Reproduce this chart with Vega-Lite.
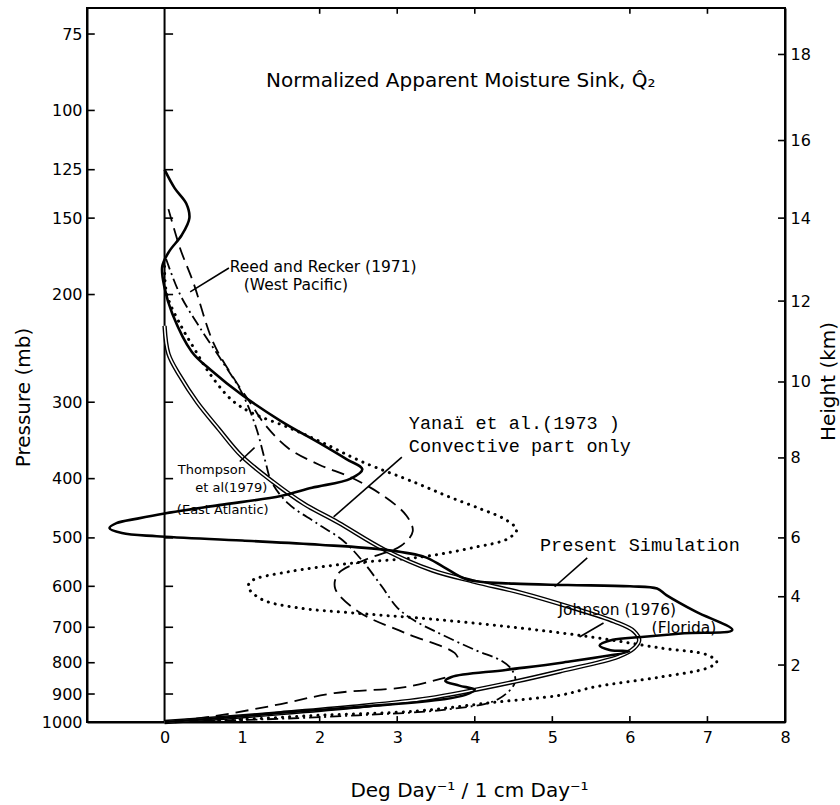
{
  "$schema": "https://vega.github.io/schema/vega-lite/v6.json",
  "width": 698,
  "height": 714,
  "autosize": {"type": "none"},
  "padding": {"left": 87, "top": 8, "right": 55, "bottom": 83},
  "background": "white",
  "config": {
    "view": {"stroke": "black", "strokeWidth": 2},
    "axis": {
      "grid": false,
      "labelFont": "DejaVu Sans",
      "titleFont": "DejaVu Sans",
      "labelColor": "black",
      "titleColor": "black",
      "domainColor": "black",
      "tickColor": "black",
      "titleFontWeight": "normal"
    }
  },
  "datasets": {
    "curves": [
      {"s": "sim", "i": 0, "x": 0, "p": 125},
      {"s": "sim", "i": 1, "x": 0.13, "p": 134},
      {"s": "sim", "i": 2, "x": 0.28, "p": 142},
      {"s": "sim", "i": 3, "x": 0.32, "p": 150},
      {"s": "sim", "i": 4, "x": 0.22, "p": 160},
      {"s": "sim", "i": 5, "x": 0.06, "p": 170},
      {"s": "sim", "i": 6, "x": -0.03, "p": 180},
      {"s": "sim", "i": 7, "x": 0.0, "p": 195},
      {"s": "sim", "i": 8, "x": 0.1, "p": 215},
      {"s": "sim", "i": 9, "x": 0.35, "p": 248},
      {"s": "sim", "i": 10, "x": 0.6, "p": 266},
      {"s": "sim", "i": 11, "x": 1.0, "p": 292},
      {"s": "sim", "i": 12, "x": 1.5, "p": 322},
      {"s": "sim", "i": 13, "x": 2.0, "p": 350},
      {"s": "sim", "i": 14, "x": 2.35, "p": 372},
      {"s": "sim", "i": 15, "x": 2.55, "p": 386},
      {"s": "sim", "i": 16, "x": 2.4, "p": 400},
      {"s": "sim", "i": 17, "x": 1.9, "p": 414},
      {"s": "sim", "i": 18, "x": 1.5, "p": 427},
      {"s": "sim", "i": 19, "x": 0.7, "p": 442},
      {"s": "sim", "i": 20, "x": 0.0, "p": 456},
      {"s": "sim", "i": 21, "x": -0.35, "p": 465},
      {"s": "sim", "i": 22, "x": -0.62, "p": 473},
      {"s": "sim", "i": 23, "x": -0.71, "p": 482},
      {"s": "sim", "i": 24, "x": -0.55, "p": 491},
      {"s": "sim", "i": 25, "x": -0.1, "p": 497},
      {"s": "sim", "i": 26, "x": 1.0, "p": 505},
      {"s": "sim", "i": 27, "x": 2.0, "p": 513},
      {"s": "sim", "i": 28, "x": 2.85, "p": 523},
      {"s": "sim", "i": 29, "x": 3.35, "p": 537},
      {"s": "sim", "i": 30, "x": 3.6, "p": 558},
      {"s": "sim", "i": 31, "x": 3.9, "p": 585},
      {"s": "sim", "i": 32, "x": 4.5, "p": 594},
      {"s": "sim", "i": 33, "x": 5.2, "p": 597},
      {"s": "sim", "i": 34, "x": 6.0, "p": 600},
      {"s": "sim", "i": 35, "x": 6.35, "p": 605},
      {"s": "sim", "i": 36, "x": 6.47, "p": 620},
      {"s": "sim", "i": 37, "x": 6.85, "p": 660},
      {"s": "sim", "i": 38, "x": 7.32, "p": 707},
      {"s": "sim", "i": 39, "x": 6.7, "p": 716},
      {"s": "sim", "i": 40, "x": 6.15, "p": 726},
      {"s": "sim", "i": 41, "x": 5.78, "p": 734},
      {"s": "sim", "i": 42, "x": 5.61, "p": 750},
      {"s": "sim", "i": 43, "x": 5.75, "p": 763},
      {"s": "sim", "i": 44, "x": 5.99, "p": 766},
      {"s": "sim", "i": 45, "x": 5.12, "p": 800},
      {"s": "sim", "i": 46, "x": 4.4, "p": 822},
      {"s": "sim", "i": 47, "x": 3.7, "p": 844},
      {"s": "sim", "i": 48, "x": 3.62, "p": 857},
      {"s": "sim", "i": 49, "x": 3.8, "p": 872},
      {"s": "sim", "i": 50, "x": 4.0, "p": 886},
      {"s": "sim", "i": 51, "x": 3.88, "p": 903},
      {"s": "sim", "i": 52, "x": 3.6, "p": 918},
      {"s": "sim", "i": 53, "x": 2.6, "p": 943},
      {"s": "sim", "i": 54, "x": 1.5, "p": 966},
      {"s": "sim", "i": 55, "x": 0.6, "p": 988},
      {"s": "sim", "i": 56, "x": 0, "p": 1000},

      {"s": "dbl", "i": 0, "x": 0.0, "p": 225},
      {"s": "dbl", "i": 1, "x": 0.05, "p": 250},
      {"s": "dbl", "i": 2, "x": 0.2, "p": 272},
      {"s": "dbl", "i": 3, "x": 0.42, "p": 300},
      {"s": "dbl", "i": 4, "x": 0.7, "p": 332},
      {"s": "dbl", "i": 5, "x": 0.99, "p": 367},
      {"s": "dbl", "i": 6, "x": 1.4, "p": 405},
      {"s": "dbl", "i": 7, "x": 1.8, "p": 440},
      {"s": "dbl", "i": 8, "x": 2.24, "p": 472},
      {"s": "dbl", "i": 9, "x": 2.84, "p": 523},
      {"s": "dbl", "i": 10, "x": 3.45, "p": 565},
      {"s": "dbl", "i": 11, "x": 4.0, "p": 590},
      {"s": "dbl", "i": 12, "x": 4.6, "p": 615},
      {"s": "dbl", "i": 13, "x": 5.25, "p": 650},
      {"s": "dbl", "i": 14, "x": 5.8, "p": 685},
      {"s": "dbl", "i": 15, "x": 6.05, "p": 710},
      {"s": "dbl", "i": 16, "x": 6.12, "p": 735},
      {"s": "dbl", "i": 17, "x": 6.05, "p": 758},
      {"s": "dbl", "i": 18, "x": 5.85, "p": 782},
      {"s": "dbl", "i": 19, "x": 5.12, "p": 825},
      {"s": "dbl", "i": 20, "x": 4.5, "p": 860},
      {"s": "dbl", "i": 21, "x": 3.4, "p": 915},
      {"s": "dbl", "i": 22, "x": 2.4, "p": 945},
      {"s": "dbl", "i": 23, "x": 1.5, "p": 967},
      {"s": "dbl", "i": 24, "x": 0.6, "p": 988},
      {"s": "dbl", "i": 25, "x": 0, "p": 1000},

      {"s": "dot", "i": 0, "x": 0.0, "p": 180},
      {"s": "dot", "i": 1, "x": 0.03, "p": 200},
      {"s": "dot", "i": 2, "x": 0.22, "p": 226},
      {"s": "dot", "i": 3, "x": 0.39, "p": 246},
      {"s": "dot", "i": 4, "x": 0.57, "p": 268},
      {"s": "dot", "i": 5, "x": 0.86, "p": 297},
      {"s": "dot", "i": 6, "x": 1.12, "p": 312},
      {"s": "dot", "i": 7, "x": 1.6, "p": 330},
      {"s": "dot", "i": 8, "x": 2.03, "p": 349},
      {"s": "dot", "i": 9, "x": 2.54, "p": 375},
      {"s": "dot", "i": 10, "x": 3.23, "p": 406},
      {"s": "dot", "i": 11, "x": 3.66, "p": 428},
      {"s": "dot", "i": 12, "x": 4.09, "p": 449},
      {"s": "dot", "i": 13, "x": 4.4, "p": 467},
      {"s": "dot", "i": 14, "x": 4.54, "p": 485},
      {"s": "dot", "i": 15, "x": 4.42, "p": 502},
      {"s": "dot", "i": 16, "x": 4.0, "p": 518},
      {"s": "dot", "i": 17, "x": 3.32, "p": 537},
      {"s": "dot", "i": 18, "x": 2.41, "p": 550},
      {"s": "dot", "i": 19, "x": 1.6, "p": 568},
      {"s": "dot", "i": 20, "x": 1.12, "p": 588},
      {"s": "dot", "i": 21, "x": 1.08, "p": 602},
      {"s": "dot", "i": 22, "x": 1.25, "p": 630},
      {"s": "dot", "i": 23, "x": 1.7, "p": 650},
      {"s": "dot", "i": 24, "x": 2.41, "p": 663},
      {"s": "dot", "i": 25, "x": 3.4, "p": 678},
      {"s": "dot", "i": 26, "x": 4.5, "p": 700},
      {"s": "dot", "i": 27, "x": 5.5, "p": 726},
      {"s": "dot", "i": 28, "x": 6.4, "p": 757},
      {"s": "dot", "i": 29, "x": 7.0, "p": 777},
      {"s": "dot", "i": 30, "x": 7.12, "p": 798},
      {"s": "dot", "i": 31, "x": 7.0, "p": 816},
      {"s": "dot", "i": 32, "x": 6.4, "p": 844},
      {"s": "dot", "i": 33, "x": 5.55, "p": 876},
      {"s": "dot", "i": 34, "x": 5.12, "p": 903},
      {"s": "dot", "i": 35, "x": 4.2, "p": 930},
      {"s": "dot", "i": 36, "x": 3.23, "p": 960},
      {"s": "dot", "i": 37, "x": 2.0, "p": 975},
      {"s": "dot", "i": 38, "x": 1.0, "p": 990},
      {"s": "dot", "i": 39, "x": 0, "p": 1000},

      {"s": "dashdot", "i": 0, "x": 0.02, "p": 175},
      {"s": "dashdot", "i": 1, "x": 0.2, "p": 200},
      {"s": "dashdot", "i": 2, "x": 0.45, "p": 226},
      {"s": "dashdot", "i": 3, "x": 0.75, "p": 258},
      {"s": "dashdot", "i": 4, "x": 1.0, "p": 290},
      {"s": "dashdot", "i": 5, "x": 1.18, "p": 330},
      {"s": "dashdot", "i": 6, "x": 1.3, "p": 375},
      {"s": "dashdot", "i": 7, "x": 1.38, "p": 405},
      {"s": "dashdot", "i": 8, "x": 1.6, "p": 440},
      {"s": "dashdot", "i": 9, "x": 1.95, "p": 472},
      {"s": "dashdot", "i": 10, "x": 2.3, "p": 505},
      {"s": "dashdot", "i": 11, "x": 2.55, "p": 545},
      {"s": "dashdot", "i": 12, "x": 2.8, "p": 600},
      {"s": "dashdot", "i": 13, "x": 3.0, "p": 650},
      {"s": "dashdot", "i": 14, "x": 3.2, "p": 680},
      {"s": "dashdot", "i": 15, "x": 3.5, "p": 712},
      {"s": "dashdot", "i": 16, "x": 4.0, "p": 762},
      {"s": "dashdot", "i": 17, "x": 4.35, "p": 795},
      {"s": "dashdot", "i": 18, "x": 4.48, "p": 822},
      {"s": "dashdot", "i": 19, "x": 4.52, "p": 860},
      {"s": "dashdot", "i": 20, "x": 4.3, "p": 918},
      {"s": "dashdot", "i": 21, "x": 3.6, "p": 955},
      {"s": "dashdot", "i": 22, "x": 2.5, "p": 975},
      {"s": "dashdot", "i": 23, "x": 1.3, "p": 990},
      {"s": "dashdot", "i": 24, "x": 0, "p": 1000},

      {"s": "dash", "part": "a", "i": 0, "x": 0.05, "p": 145},
      {"s": "dash", "part": "a", "i": 1, "x": 0.2, "p": 168},
      {"s": "dash", "part": "a", "i": 2, "x": 0.37, "p": 191},
      {"s": "dash", "part": "a", "i": 3, "x": 0.63, "p": 240},
      {"s": "dash", "part": "a", "i": 4, "x": 0.9, "p": 275},
      {"s": "dash", "part": "a", "i": 5, "x": 1.1, "p": 300},
      {"s": "dash", "part": "a", "i": 6, "x": 1.3, "p": 327},
      {"s": "dash", "part": "a", "i": 7, "x": 1.6, "p": 357},
      {"s": "dash", "part": "a", "i": 8, "x": 2.0, "p": 380},
      {"s": "dash", "part": "a", "i": 9, "x": 2.4, "p": 398},
      {"s": "dash", "part": "a", "i": 10, "x": 2.8, "p": 425},
      {"s": "dash", "part": "a", "i": 11, "x": 3.12, "p": 460},
      {"s": "dash", "part": "a", "i": 12, "x": 3.2, "p": 488},
      {"s": "dash", "part": "a", "i": 13, "x": 3.05, "p": 515},
      {"s": "dash", "part": "a", "i": 14, "x": 2.6, "p": 542},
      {"s": "dash", "part": "a", "i": 15, "x": 2.24, "p": 572},
      {"s": "dash", "part": "a", "i": 16, "x": 2.2, "p": 605},
      {"s": "dash", "part": "a", "i": 17, "x": 2.5, "p": 660},
      {"s": "dash", "part": "a", "i": 18, "x": 3.1, "p": 715},
      {"s": "dash", "part": "a", "i": 19, "x": 3.74, "p": 771},
      {"s": "dash", "part": "a", "i": 20, "x": 3.8, "p": 795},
      {"s": "dash", "part": "b", "i": 21, "x": 3.62, "p": 846},
      {"s": "dash", "part": "b", "i": 22, "x": 3.1, "p": 877},
      {"s": "dash", "part": "b", "i": 23, "x": 2.19, "p": 897},
      {"s": "dash", "part": "b", "i": 24, "x": 1.4, "p": 940},
      {"s": "dash", "part": "b", "i": 25, "x": 0.6, "p": 980},
      {"s": "dash", "part": "b", "i": 26, "x": 0, "p": 1000}
    ],
    "labels": [
      {"g": "title", "x": 3.82, "p": 89.6, "t": "Normalized Apparent Moisture Sink, Q\u0302\u2082"},
      {"g": "sans", "x": 0.84, "p": 180, "t": "Reed and Recker (1971)"},
      {"g": "sans", "x": 1.02, "p": 193, "t": "(West Pacific)"},
      {"g": "sans", "x": 5.08, "p": 655, "t": "Johnson (1976)"},
      {"g": "sans", "x": 6.28, "p": 702, "t": "(Florida)"},
      {"g": "small", "x": 0.61, "p": 387, "t": "Thompson"},
      {"g": "small", "x": 0.86, "p": 414, "t": "et al(1979)"},
      {"g": "small", "x": 0.75, "p": 450, "t": "(East Atlantic)"},
      {"g": "mono", "x": 3.15, "p": 325, "t": "Yana\u00ef  et al.(1973 )"},
      {"g": "mono", "x": 3.15, "p": 354, "t": "Convective part only"},
      {"g": "mono", "x": 4.84, "p": 513, "t": "Present Simulation"}
    ],
    "pointers": [
      {"x": 0.33, "p": 198, "x2": 0.83, "p2": 181},
      {"x": 3.06, "p": 369, "x2": 2.18, "p2": 462},
      {"x": 5.45, "p": 539, "x2": 5.03, "p2": 601},
      {"x": 0.97, "p": 375, "x2": 1.16, "p2": 356},
      {"x": 5.66, "p": 689, "x2": 5.35, "p2": 726}
    ],
    "frameTicks": [
      {"x": -1, "x2": -0.9, "p": 75, "p2": 75},
      {"x": -1, "x2": -0.9, "p": 100, "p2": 100},
      {"x": -1, "x2": -0.9, "p": 125, "p2": 125},
      {"x": -1, "x2": -0.9, "p": 150, "p2": 150},
      {"x": -1, "x2": -0.9, "p": 200, "p2": 200},
      {"x": -1, "x2": -0.9, "p": 300, "p2": 300},
      {"x": -1, "x2": -0.9, "p": 400, "p2": 400},
      {"x": -1, "x2": -0.9, "p": 500, "p2": 500},
      {"x": -1, "x2": -0.9, "p": 600, "p2": 600},
      {"x": -1, "x2": -0.9, "p": 700, "p2": 700},
      {"x": -1, "x2": -0.9, "p": 800, "p2": 800},
      {"x": -1, "x2": -0.9, "p": 900, "p2": 900},
      {"x": 0, "x2": 0.11, "p": 75, "p2": 75},
      {"x": 0, "x2": 0.11, "p": 100, "p2": 100},
      {"x": 0, "x2": 0.11, "p": 125, "p2": 125},
      {"x": 0, "x2": 0.11, "p": 150, "p2": 150},
      {"x": 0, "x2": 0.11, "p": 200, "p2": 200},
      {"x": 0, "x2": 0.11, "p": 300, "p2": 300},
      {"x": 0, "x2": 0.11, "p": 400, "p2": 400},
      {"x": 0, "x2": 0.11, "p": 500, "p2": 500},
      {"x": 0, "x2": 0.11, "p": 600, "p2": 600},
      {"x": 0, "x2": 0.11, "p": 700, "p2": 700},
      {"x": 0, "x2": 0.11, "p": 800, "p2": 800},
      {"x": 0, "x2": 0.11, "p": 900, "p2": 900},
      {"x": 7.91, "x2": 8, "p": 81, "p2": 81},
      {"x": 7.91, "x2": 8, "p": 112, "p2": 112},
      {"x": 7.91, "x2": 8, "p": 150, "p2": 150},
      {"x": 7.91, "x2": 8, "p": 205, "p2": 205},
      {"x": 7.91, "x2": 8, "p": 278, "p2": 278},
      {"x": 7.91, "x2": 8, "p": 370, "p2": 370},
      {"x": 7.91, "x2": 8, "p": 500, "p2": 500},
      {"x": 7.91, "x2": 8, "p": 624, "p2": 624},
      {"x": 7.91, "x2": 8, "p": 807, "p2": 807},
      {"x": 1, "x2": 1, "p": 1000, "p2": 978},
      {"x": 2, "x2": 2, "p": 1000, "p2": 978},
      {"x": 3, "x2": 3, "p": 1000, "p2": 978},
      {"x": 4, "x2": 4, "p": 1000, "p2": 978},
      {"x": 5, "x2": 5, "p": 1000, "p2": 978},
      {"x": 6, "x2": 6, "p": 1000, "p2": 978},
      {"x": 7, "x2": 7, "p": 1000, "p2": 978},
      {"x": 2, "x2": 2, "p": 68, "p2": 69.5},
      {"x": 3, "x2": 3, "p": 68, "p2": 69.5},
      {"x": 4, "x2": 4, "p": 68, "p2": 69.5},
      {"x": 6, "x2": 6, "p": 68, "p2": 69.5},
      {"x": 7, "x2": 7, "p": 68, "p2": 69.5}
    ]
  },
  "encoding": {
    "x": {
      "field": "x",
      "type": "quantitative",
      "scale": {"domain": [-1, 8], "nice": false, "zero": false},
      "axis": {
        "orient": "bottom",
        "values": [0, 1, 2, 3, 4, 5, 6, 7, 8],
        "labelFontSize": 16,
        "labelPadding": 7,
        "ticks": false,
        "domainWidth": 2,
        "labelFlush": false,
        "labelOverlap": false,
        "title": "Deg Day\u207b\u00b9 / 1 cm Day\u207b\u00b9",
        "titleFontSize": 20,
        "titleX": 382,
        "titleY": 68,
        "titleAlign": "center",
        "titleBaseline": "middle"
      }
    }
  },
  "layer": [
    {
      "encoding": {
        "y": {
          "field": "p",
          "type": "quantitative",
          "scale": {"type": "log", "domain": [68, 1000], "reverse": true, "nice": false},
          "axis": {
            "orient": "left",
            "values": [75, 100, 125, 150, 200, 300, 400, 500, 600, 700, 800, 900, 1000],
            "format": "d",
            "labelFontSize": 16,
            "labelPadding": 5,
            "labelOverlap": false,
            "ticks": false,
            "domainWidth": 2,
            "title": "Pressure (mb)",
            "titleFontSize": 20,
            "titleX": -64,
            "titleY": 389,
            "titleAngle": 270,
            "titleAlign": "center",
            "titleBaseline": "middle"
          }
        }
      },
      "layer": [
        {
          "data": {"values": [{"x": 0, "p": 68, "p2": 1000}]},
          "mark": {"type": "rule", "color": "black", "strokeWidth": 2},
          "encoding": {"y2": {"field": "p2"}}
        },
        {
          "data": {"name": "frameTicks"},
          "mark": {"type": "rule", "color": "black", "strokeWidth": 1.6},
          "encoding": {"x2": {"field": "x2"}, "y2": {"field": "p2"}}
        },
        {
          "data": {"name": "curves"},
          "transform": [{"filter": "datum.s == 'dot'"}],
          "mark": {"type": "line", "color": "black", "strokeWidth": 3, "strokeDash": [0.1, 7], "strokeCap": "round", "interpolate": "catmull-rom"},
          "encoding": {"order": {"field": "i", "type": "quantitative"}}
        },
        {
          "data": {"name": "curves"},
          "transform": [{"filter": "datum.s == 'dashdot'"}],
          "mark": {"type": "line", "color": "black", "strokeWidth": 1.8, "strokeDash": [11, 4, 2, 4], "interpolate": "catmull-rom"},
          "encoding": {"order": {"field": "i", "type": "quantitative"}}
        },
        {
          "data": {"name": "curves"},
          "transform": [{"filter": "datum.s == 'dash'"}],
          "mark": {"type": "line", "color": "black", "strokeWidth": 1.8, "strokeDash": [13, 7], "interpolate": "catmull-rom"},
          "encoding": {"order": {"field": "i", "type": "quantitative"}, "detail": {"field": "part"}}
        },
        {
          "data": {"name": "curves"},
          "transform": [{"filter": "datum.s == 'dbl'"}],
          "mark": {"type": "line", "color": "black", "strokeWidth": 4.4, "interpolate": "catmull-rom"},
          "encoding": {"order": {"field": "i", "type": "quantitative"}}
        },
        {
          "data": {"name": "curves"},
          "transform": [{"filter": "datum.s == 'dbl'"}],
          "mark": {"type": "line", "color": "white", "strokeWidth": 1.6, "interpolate": "catmull-rom"},
          "encoding": {"order": {"field": "i", "type": "quantitative"}}
        },
        {
          "data": {"name": "curves"},
          "transform": [{"filter": "datum.s == 'sim'"}],
          "mark": {"type": "line", "color": "black", "strokeWidth": 2.6, "interpolate": "catmull-rom"},
          "encoding": {"order": {"field": "i", "type": "quantitative"}}
        },
        {
          "data": {"name": "pointers"},
          "mark": {"type": "rule", "color": "black", "strokeWidth": 1.6},
          "encoding": {"x2": {"field": "x2"}, "y2": {"field": "p2"}}
        },
        {
          "data": {"name": "labels"},
          "transform": [{"filter": "datum.g == 'title'"}],
          "mark": {"type": "text", "font": "DejaVu Sans", "fontSize": 20, "align": "center", "baseline": "middle", "color": "black"},
          "encoding": {"text": {"field": "t"}}
        },
        {
          "data": {"name": "labels"},
          "transform": [{"filter": "datum.g == 'sans'"}],
          "mark": {"type": "text", "font": "DejaVu Sans", "fontSize": 15.5, "align": "left", "baseline": "middle", "color": "black"},
          "encoding": {"text": {"field": "t"}}
        },
        {
          "data": {"name": "labels"},
          "transform": [{"filter": "datum.g == 'small'"}],
          "mark": {"type": "text", "font": "DejaVu Sans", "fontSize": 13, "align": "center", "baseline": "middle", "color": "black"},
          "encoding": {"text": {"field": "t"}}
        },
        {
          "data": {"name": "labels"},
          "transform": [{"filter": "datum.g == 'mono'"}],
          "mark": {"type": "text", "font": "Liberation Mono", "fontSize": 18.5, "align": "left", "baseline": "middle", "color": "black"},
          "encoding": {"text": {"field": "t"}}
        }
      ]
    },
    {
      "data": {"values": [{"x": 8, "p": 1000}]},
      "mark": {"type": "point", "opacity": 0},
      "encoding": {
        "y": {
          "field": "p",
          "type": "quantitative",
          "scale": {"type": "log", "domain": [68, 1000], "reverse": true, "nice": false},
          "axis": {
            "orient": "right",
            "values": [81, 112, 150, 205, 278, 370, 500, 624, 807],
            "labelExpr": "datum.value == 81 ? '18' : datum.value == 112 ? '16' : datum.value == 150 ? '14' : datum.value == 205 ? '12' : datum.value == 278 ? '10' : datum.value == 370 ? '8' : datum.value == 500 ? '6' : datum.value == 624 ? '4' : '2'",
            "labelFontSize": 16,
            "labelPadding": 5,
            "labelOverlap": false,
            "ticks": false,
            "domainWidth": 2,
            "title": "Height (km)",
            "titleFontSize": 20,
            "titleX": 43,
            "titleY": 373,
            "titleAngle": 270,
            "titleAlign": "center",
            "titleBaseline": "middle"
          }
        }
      }
    }
  ],
  "resolve": {"scale": {"y": "independent"}, "axis": {"y": "independent"}}
}
